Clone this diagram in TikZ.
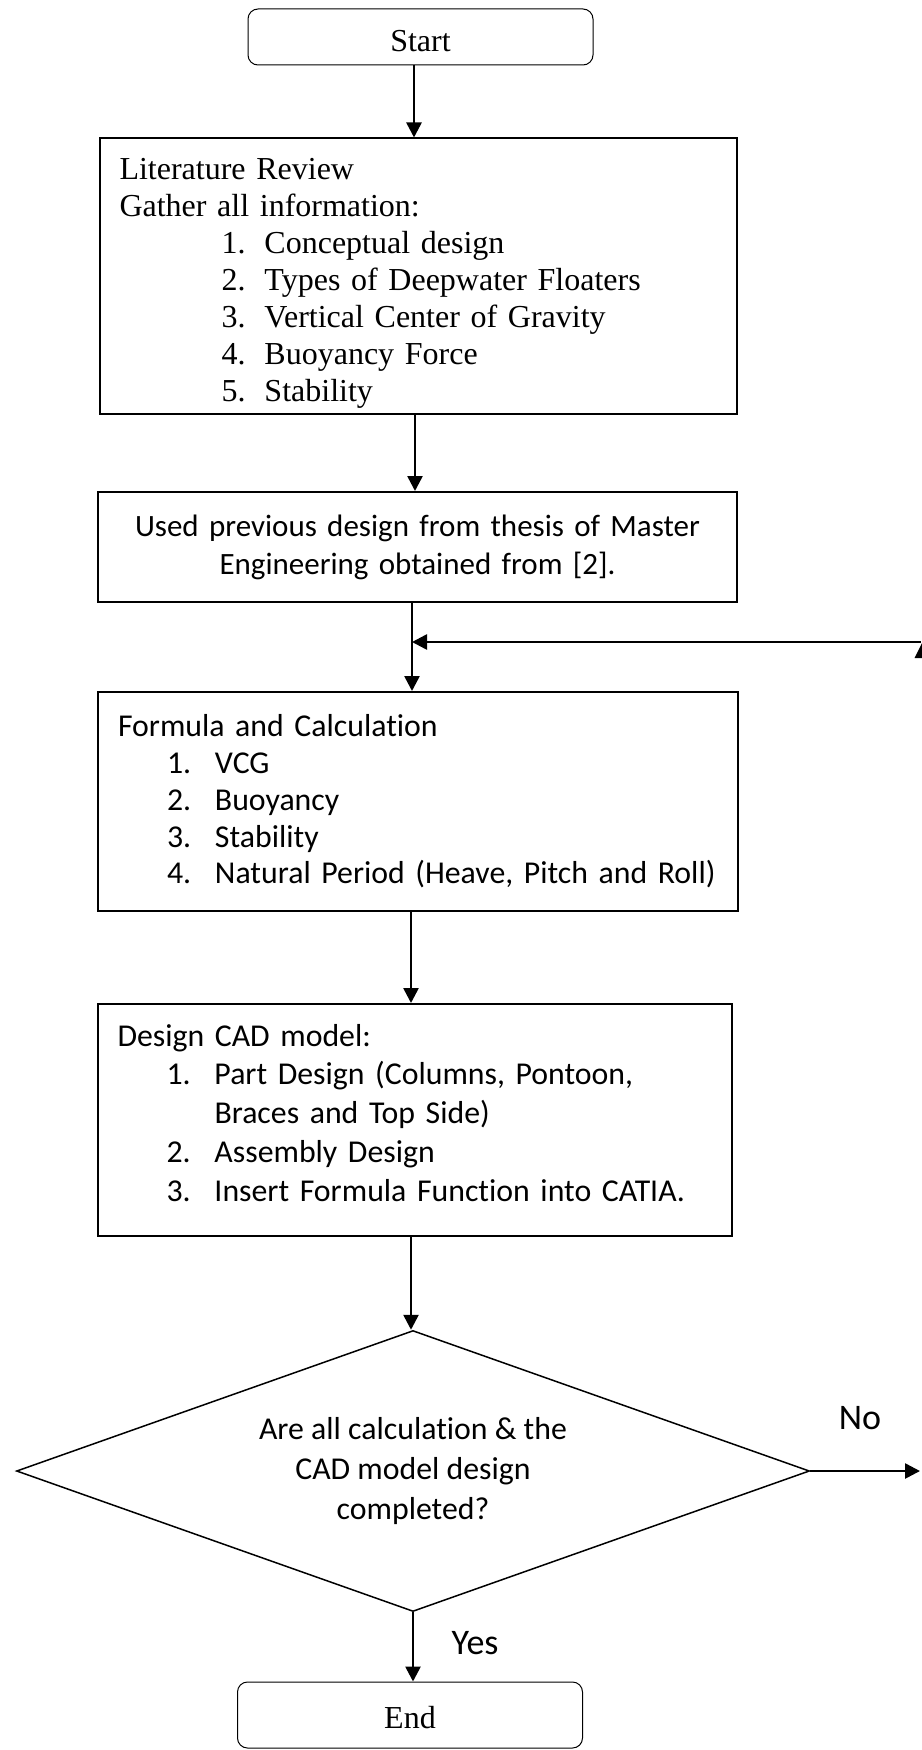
\documentclass[tikz,border=0pt]{standalone}
\usepackage{fontspec}
\setmainfont{Liberation Serif}
\newfontfamily\calibri[Ligatures=NoCommon]{Carlito}
\usetikzlibrary{shapes.geometric,arrows.meta}

% list lines inside the boxes
\newcommand{\litline}[2]{\hspace*{51pt}\makebox[21.5pt][l]{#1}#2}
\newcommand{\calcline}[2]{\hspace*{24.5pt}\makebox[24pt][l]{#1}#2}

\tikzset{
  terminal/.style={draw, rounded corners=5pt, line width=0.5pt, minimum width=172.5pt,
    minimum height=28pt, inner sep=0pt, text height=15pt, text depth=0pt,
    font=\fontsize{16}{18.5}\selectfont},
  procbox/.style={draw, line width=1pt, inner xsep=10pt, inner ysep=0pt, align=left},
  decision/.style={draw, diamond, aspect=2.82, line width=0.75pt, minimum width=396.5pt,
    minimum height=140.5pt, inner sep=0pt, align=center,
    font=\calibri\fontsize{15.9}{20}\selectfont},
  arr/.style={-{Triangle[length=7.5pt,width=7.5pt]}, line width=1.3pt},
  branch/.style={font=\calibri\fontsize{18}{21}\selectfont},
}

\begin{document}
\begin{tikzpicture}[x=0.5pt, y=-0.5pt]
  \useasboundingbox (0,0) rectangle (921,1750);

  % Start and literature review
  \node[terminal] (start) at (420.5,37) {Start};
  \node[procbox, text width=298.5pt, minimum height=137.5pt,
        font=\fontsize{16}{18.5}\selectfont] (lit) at (418,276) {%
    \rule{0pt}{18pt}Literature Review\\
    Gather all information:\\
    \litline{1.}{Conceptual design}\\
    \litline{2.}{Types of Deepwater Floaters}\\
    \litline{3.}{Vertical Center of Gravity}\\
    \litline{4.}{Buoyancy Force}\\
    \litline{5.}{Stability}};

  % Previous design
  \node[procbox, align=center, text width=299.5pt, minimum height=55pt,
        font=\calibri\fontsize{15.5}{19}\selectfont] (used) at (417.5,547) {%
    Used previous design from thesis of Master\\
    Engineering obtained from [2].};

  % Formula and calculation
  \node[procbox, text width=300pt, minimum height=109.5pt,
        font=\calibri\fontsize{15.9}{18.4}\selectfont] (calc) at (418,801.5) {%
    Formula and Calculation\\
    \calcline{1.}{VCG}\\
    \calcline{2.}{Buoyancy}\\
    \calcline{3.}{Stability}\\
    \calcline{4.}{Natural Period (Heave, Pitch and Roll)}};

  % CAD model
  \node[procbox, text width=297pt, minimum height=116pt,
        font=\calibri\fontsize{15.9}{19.4}\selectfont] (cad) at (414.5,1120) {%
    Design CAD model:\\
    \calcline{1.}{Part Design (Columns, Pontoon,}\\
    \hspace*{48.5pt}Braces and Top Side)\\
    \calcline{2.}{Assembly Design}\\
    \calcline{3.}{Insert Formula Function into CATIA.}\\[-12pt]
    \mbox{}};

  % Decision and end
  \node[decision] (check) at (413,1471) {Are all calculation \& the\\CAD model design\\completed?};
  \node[terminal, minimum height=33pt, text height=13pt] (finish) at (410,1715) {End};

  % Connectors
  \draw[arr] ([xshift=-3.25pt]start.south) -- ([xshift=-3.25pt]start.south |- lit.north);
  \draw[arr] ([xshift=-1.5pt]lit.south) -- ([xshift=-1.5pt]lit.south |- used.north);
  \draw[arr] ([xshift=-2.75pt]used.south) -- ([xshift=-2.75pt]used.south |- calc.north);
  \draw[arr] ([xshift=-3.5pt]calc.south) -- ([xshift=-3.5pt]calc.south |- cad.north);
  \draw[arr] ([xshift=-1.75pt]cad.south) -- ([xshift=-1.75pt]cad.south |- check.north);
  \draw[arr] (check.south) -- (check.south |- finish.north);

  % Loop back and No branch
  \coordinate (loopin) at (921,642);
  \coordinate (noend) at (920,1471);
  \draw[arr] (loopin) -- ([xshift=-2.75pt]used.south |- loopin);
  \draw[arr] (check.east) -- (noend);
  \fill (914.5,658) -- (922,643) -- (929.5,658) -- cycle; % cut-off tip at the edge

  % Labels
  \node[branch] (nolabel) at (860,1418) {No};
  \node[branch] (yeslabel) at (475,1643) {Yes};
\end{tikzpicture}
\end{document}
